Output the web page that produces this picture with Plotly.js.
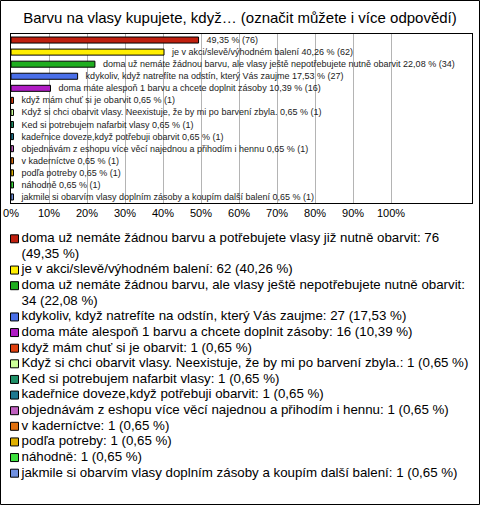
<!DOCTYPE html>
<html>
<head>
<meta charset="utf-8">
<script src="https://cdn.plot.ly/plotly-3.0.1.min.js"></script>
<style>
  html, body { margin: 0; padding: 0; background: #fff; }
  #chart { width: 480px; height: 505px; }
</style>
</head>
<body>
<div id="chart"></div>
<script>
const chartTitle = 'Barvu na vlasy kupujete, když… (označit můžete i více odpovědí)';

const categories = [
  'doma už nemáte žádnou barvu a potřebujete vlasy již nutně obarvit',
  'je v akci/slevě/výhodném balení',
  'doma už nemáte žádnou barvu, ale vlasy ještě nepotřebujete nutně obarvit',
  'kdykoliv, když natrefíte na odstín, který Vás zaujme',
  'doma máte alespoň 1 barvu a chcete doplnit zásoby',
  'když mám chuť si je obarvit',
  'Když si chci obarvit vlasy. Neexistuje, že by mi po barvení zbyla.',
  'Ked si potrebujem nafarbit vlasy',
  'kadeřnice doveze,když potřebuji obarvit',
  'objednávám z eshopu více věcí najednou a přihodím i hennu',
  'v kaderníctve',
  'podľa potreby',
  'náhodně',
  'jakmile si obarvím vlasy doplním zásoby a koupím další balení'
];

const counts = [76, 62, 34, 27, 16, 1, 1, 1, 1, 1, 1, 1, 1, 1];

const percents = [49.35, 40.26, 22.08, 17.53, 10.39, 0.65, 0.65, 0.65, 0.65, 0.65, 0.65, 0.65, 0.65, 0.65];

const colors = [
  '#c0200f', '#ffee00', '#1fae1f', '#4a6fe8', '#b01cc4', '#e0400f', '#ccff99',
  '#1f9068', '#1f7890', '#c060c0', '#e0700f', '#e0b000', '#3ee03e', '#7090e0'
];

const tickValues = [0, 10, 20, 30, 40, 50, 60, 70, 80, 90, 100];
const tickLabels = ['0%', '10%', '20%', '30%', '40%', '50%', '60%', '70%', '80%', '90%', '100%'];

const FONT = '"Liberation Sans", Arial, sans-serif';
const LEG_SIZE = 13.3;

function fmt(p) { return p.toFixed(2).replace('.', ','); }

// Bar data labels (the first one is shown without the category name, as in the source)
const NB = '\u00a0\u00a0';
const barLabels = categories.map((c, i) =>
  NB + (i === 0 ? `${fmt(percents[i])} % (${counts[i]})` : `${c} ${fmt(percents[i])} % (${counts[i]})`));

// Legend entries, word-wrapped by measured width
const legendLabels = categories.map((c, i) => `${c}: ${counts[i]} (${fmt(percents[i])} %)`);
const canvas = document.createElement('canvas');
const ctx = canvas.getContext('2d');
ctx.font = LEG_SIZE + 'px "Liberation Sans", Arial, sans-serif';
const maxW = 447;
function wrap(text) {
  const words = text.split(' ');
  const lines = [];
  let cur = '';
  for (const w of words) {
    const t = cur ? cur + ' ' + w : w;
    if (cur && ctx.measureText(t).width > maxW) { lines.push(cur); cur = w; }
    else cur = t;
  }
  if (cur) lines.push(cur);
  return lines;
}
const legTextX = [], legTextY = [], legText = [];
const legMarkY = [], legMarkX = [];
let line = 0;
legendLabels.forEach((lab) => {
  const ls = wrap(lab);
  legMarkY.push(line);
  legMarkX.push(14.5);
  ls.forEach(l => { legText.push(l); legTextY.push(line); legTextX.push(21.5); line++; });
});
const totalLines = line;

const barTrace = {
  type: 'bar',
  orientation: 'h',
  x: percents,
  y: categories,
  width: 0.5,
  marker: { color: colors, line: { color: '#000', width: 1 } },
  text: barLabels,
  textposition: 'outside',
  constraintext: 'none',
  cliponaxis: false,
  textfont: { family: FONT, size: 9, color: '#222' },
  hoverinfo: 'none',
  showlegend: false,
  xaxis: 'x', yaxis: 'y'
};

const legendMarkers = {
  type: 'scatter',
  mode: 'markers',
  x: legMarkX,
  y: legMarkY,
  marker: { symbol: 'square', size: 8, color: colors, line: { color: '#000', width: 1 } },
  cliponaxis: false,
  hoverinfo: 'none',
  showlegend: false,
  xaxis: 'x2', yaxis: 'y2'
};

const legendTexts = {
  type: 'scatter',
  mode: 'text',
  x: legTextX,
  y: legTextY,
  text: legText,
  textposition: 'middle right',
  textfont: { family: FONT, size: LEG_SIZE, color: '#000' },
  cliponaxis: false,
  hoverinfo: 'none',
  showlegend: false,
  xaxis: 'x2', yaxis: 'y2'
};

const layout = {
  width: 480,
  height: 505,
  margin: { l: 0, r: 0, t: 0, b: 0 },
  paper_bgcolor: '#fff',
  plot_bgcolor: '#fff',
  showlegend: false,
  title: {
    text: chartTitle,
    x: 0.5, xanchor: 'center',
    y: 1 - 18 / 505, yanchor: 'middle',
    xref: 'paper', yref: 'paper',
    font: { family: FONT, size: 15, color: '#000' }
  },
  xaxis: {
    domain: [11 / 480, 472 / 480],
    range: [0, 121.3],
    tickvals: tickValues,
    ticktext: tickLabels,
    showgrid: true,
    gridcolor: '#b4b4b4',
    gridwidth: 1,
    zeroline: false,
    showline: true,
    mirror: true,
    linecolor: '#000',
    linewidth: 1,
    ticks: '',
    tickfont: { family: FONT, size: 11, color: '#000' },
    fixedrange: true
  },
  yaxis: {
    domain: [1 - 203 / 505, 1 - 34 / 505],
    type: 'category',
    autorange: 'reversed',
    showticklabels: false,
    showgrid: false,
    zeroline: false,
    showline: true,
    mirror: true,
    linecolor: '#000',
    linewidth: 1,
    ticks: '',
    fixedrange: true
  },
  xaxis2: {
    domain: [0, 1],
    range: [0, 480],
    visible: false,
    fixedrange: true
  },
  yaxis2: {
    domain: [1 - 481 / 505, 1 - 231 / 505],
    range: [totalLines - 0.5, -0.5],
    visible: false,
    fixedrange: true
  },
  shapes: [{
    type: 'rect', xref: 'paper', yref: 'paper',
    x0: 0.5 / 480, x1: 1 - 0.5 / 480, y0: 0.5 / 505, y1: 1 - 0.5 / 505,
    line: { color: '#000', width: 1 }, fillcolor: 'rgba(0,0,0,0)', layer: 'above'
  }]
};

Plotly.newPlot('chart', [barTrace, legendMarkers, legendTexts], layout, { staticPlot: true, displayModeBar: false });
</script>
</body>
</html>
